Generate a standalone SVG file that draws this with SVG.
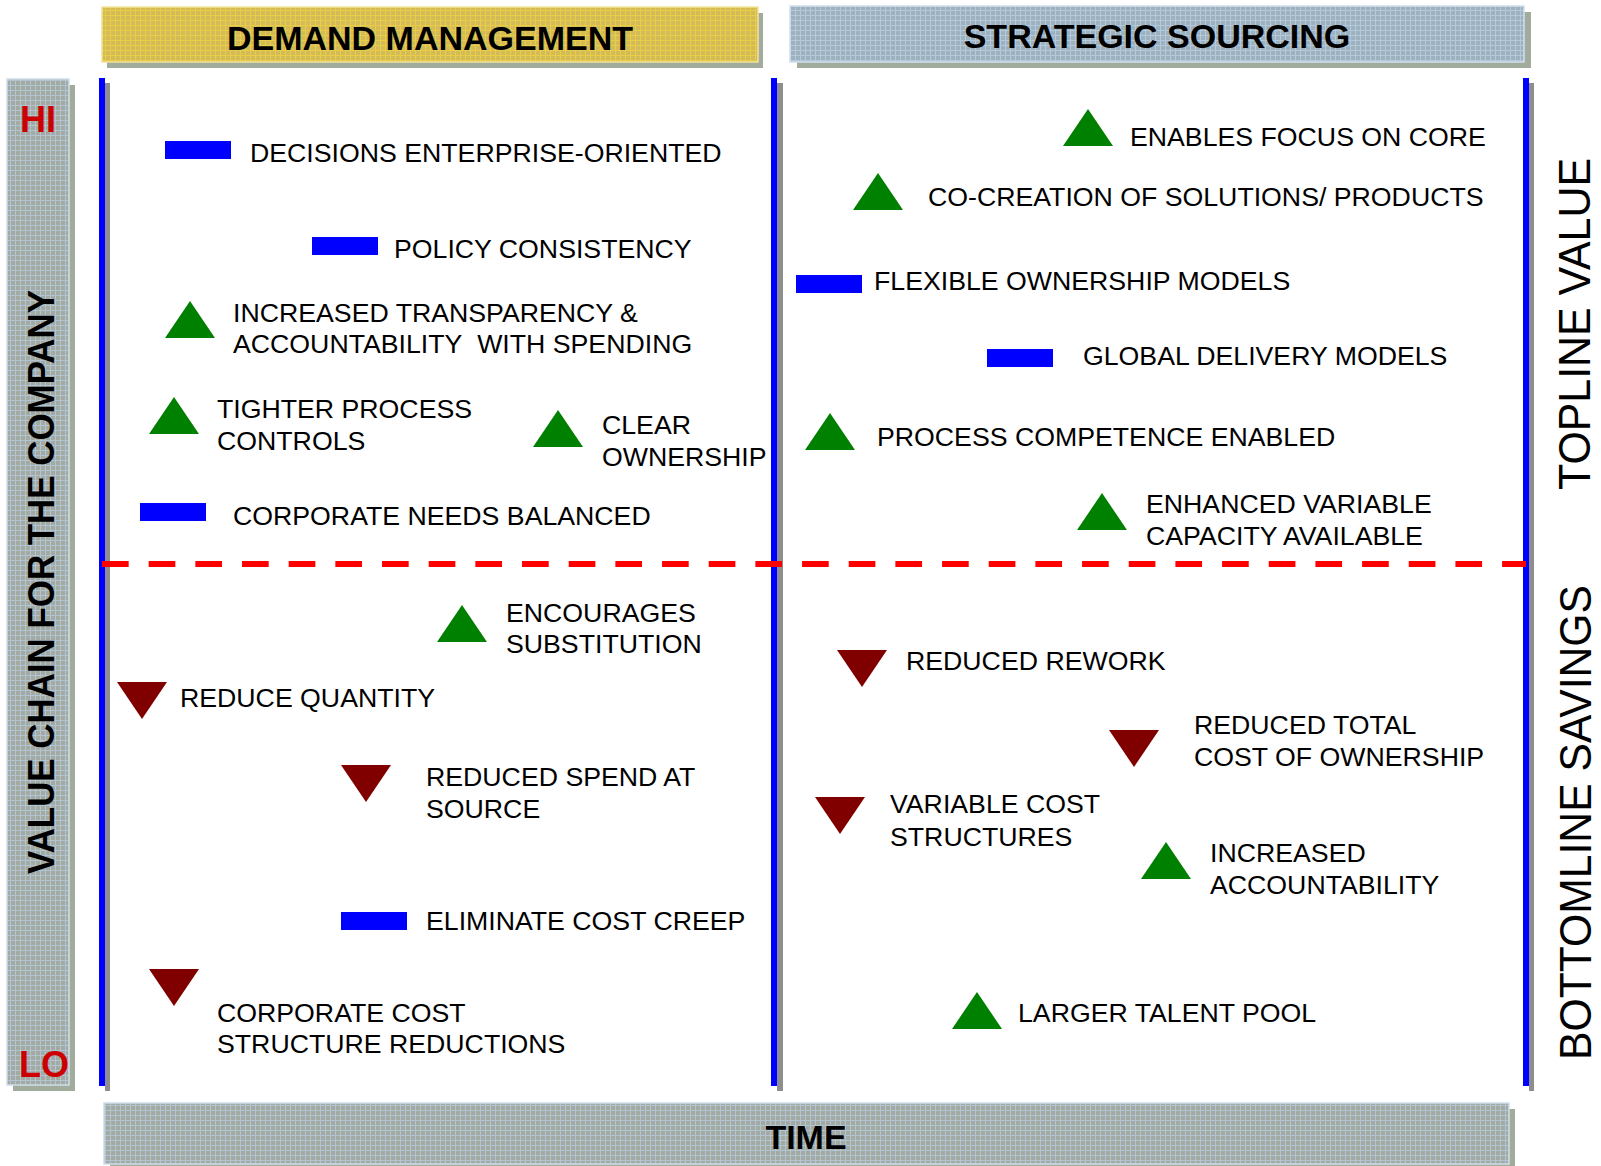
<svg xmlns="http://www.w3.org/2000/svg" width="1601" height="1166" viewBox="0 0 1601 1166">
<style>
  text { font-family: "Liberation Sans", Arial, sans-serif; fill: #000; }
  .item { font-size: 26.7px; }
  .hdr { font-size: 34px; font-weight: bold; text-anchor: middle; }
  .hilo { font-size: 36px; font-weight: bold; fill: #CC0000; }
  .side { font-size: 45px; }
  .up { fill: #008000; }
  .down { fill: #800000; }
  .bar { fill: #0000FF; }
  .shadow { fill: #A2AC9C; }
  .vshadow { fill: #8E8E8E; }
  .vline { fill: #0000FF; }
</style>
<defs>
  <pattern id="pGold" width="5" height="5" patternUnits="userSpaceOnUse">
    <rect width="5" height="5" fill="#D3BB57"/>
    <path d="M0 0.5H5M0.5 0V5" stroke="#E9CC48" stroke-width="1"/>
  </pattern>
  <pattern id="pBlue" width="5" height="5" patternUnits="userSpaceOnUse">
    <rect width="5" height="5" fill="#9DB1BF"/>
    <path d="M0 0.5H5M0.5 0V5" stroke="#B4CADC" stroke-width="1"/>
  </pattern>
  <pattern id="pGray" width="5" height="5" patternUnits="userSpaceOnUse">
    <rect width="5" height="5" fill="#A2AAA1"/>
    <path d="M0 0.5H5M0.5 0V5" stroke="#B2C4D4" stroke-width="1"/>
  </pattern>
  <path id="triUp" d="M25 0 L50 37 L0 37 Z"/>
  <path id="triDown" d="M0 0 L50 0 L25 37 Z"/>
  <rect id="blueBar" width="66" height="18"/>
</defs>

<rect width="1601" height="1166" fill="#FFFFFF"/>

<!-- Headers -->
<g id="header-demand">
  <rect class="shadow" x="107" y="13" width="656" height="55"/>
  <rect x="102" y="7" width="656" height="55" fill="url(#pGold)" stroke="#F3E39A" stroke-width="1.5"/>
  <text class="hdr" x="430" y="50">DEMAND MANAGEMENT</text>
</g>
<g id="header-sourcing">
  <rect class="shadow" x="797" y="12" width="734" height="56"/>
  <rect x="790" y="6" width="734" height="56" fill="url(#pBlue)" stroke="#D2E0EE" stroke-width="1.5"/>
  <text class="hdr" x="1157" y="48">STRATEGIC SOURCING</text>
</g>

<!-- Left value chain bar -->
<g id="axis-value-chain">
  <rect class="shadow" x="13" y="85" width="62" height="1006"/>
  <rect x="7" y="79" width="62" height="1006" fill="url(#pGray)" stroke="#CFDDEA" stroke-width="1.5"/>
  <text class="hilo" x="20" y="132">HI</text>
  <text class="hilo" x="19" y="1077">LO</text>
  <text transform="translate(54,874) rotate(-90)" font-size="36.5" font-weight="bold" textLength="584" lengthAdjust="spacingAndGlyphs">VALUE CHAIN FOR THE COMPANY</text>
</g>

<!-- Bottom time bar -->
<g id="axis-time">
  <rect class="shadow" x="110" y="1109" width="1405" height="57"/>
  <rect x="104" y="1103" width="1405" height="61" fill="url(#pGray)" stroke="#CFDDEA" stroke-width="1.5"/>
  <text class="hdr" x="806" y="1149">TIME</text>
</g>

<!-- Right side labels -->
<g id="label-topline">
  <text class="side" transform="translate(1590,490) rotate(-90)" textLength="332" lengthAdjust="spacingAndGlyphs">TOPLINE VALUE</text>
</g>
<g id="label-bottomline">
  <text class="side" transform="translate(1591,1060) rotate(-90)" textLength="475" lengthAdjust="spacingAndGlyphs">BOTTOMLINE SAVINGS</text>
</g>

<!-- Frame lines and divider -->
<g id="connectors">
  <rect class="vshadow" x="105" y="83" width="5" height="1008"/>
  <rect class="vline" x="99" y="78" width="6" height="1008"/>
  <rect class="vshadow" x="777" y="83" width="6" height="1008"/>
  <rect class="vline" x="771" y="78" width="6" height="1008"/>
  <rect class="vshadow" x="1529" y="83" width="5" height="1008"/>
  <rect class="vline" x="1523" y="78" width="6" height="1008"/>
  <line x1="102" y1="564" x2="1526" y2="564" stroke="#FF0000" stroke-width="6" stroke-dasharray="26.67 20"/>
</g>

<!-- Top-left quadrant -->
<g id="n-decisions">
  <use href="#blueBar" class="bar" x="165" y="141"/>
  <text class="item" x="250" y="162">DECISIONS ENTERPRISE-ORIENTED</text>
</g>
<g id="n-policy">
  <use href="#blueBar" class="bar" x="312" y="237"/>
  <text class="item" x="394" y="258">POLICY CONSISTENCY</text>
</g>
<g id="n-transparency">
  <use href="#triUp" class="up" x="165" y="301"/>
  <text class="item" x="233" y="322">INCREASED TRANSPARENCY &amp;</text>
  <text class="item" x="233" y="353">ACCOUNTABILITY&#160; WITH SPENDING</text>
</g>
<g id="n-tighter">
  <use href="#triUp" class="up" x="149" y="397"/>
  <text class="item" x="217" y="418">TIGHTER PROCESS</text>
  <text class="item" x="217" y="450">CONTROLS</text>
</g>
<g id="n-clear">
  <use href="#triUp" class="up" x="533" y="410"/>
  <text class="item" x="602" y="434">CLEAR</text>
  <text class="item" x="602" y="466">OWNERSHIP</text>
</g>
<g id="n-corporate-needs">
  <use href="#blueBar" class="bar" x="140" y="503"/>
  <text class="item" x="233" y="525">CORPORATE NEEDS BALANCED</text>
</g>

<!-- Top-right quadrant -->
<g id="n-focus">
  <use href="#triUp" class="up" x="1063" y="109"/>
  <text class="item" x="1130" y="146">ENABLES FOCUS ON CORE</text>
</g>
<g id="n-cocreation">
  <use href="#triUp" class="up" x="853" y="173"/>
  <text class="item" x="928" y="206">CO-CREATION OF SOLUTIONS/ PRODUCTS</text>
</g>
<g id="n-flexible">
  <use href="#blueBar" class="bar" x="796" y="275"/>
  <text class="item" x="874" y="290">FLEXIBLE OWNERSHIP MODELS</text>
</g>
<g id="n-global">
  <use href="#blueBar" class="bar" x="987" y="349"/>
  <text class="item" x="1083" y="365">GLOBAL DELIVERY MODELS</text>
</g>
<g id="n-process">
  <use href="#triUp" class="up" x="805" y="413"/>
  <text class="item" x="877" y="446">PROCESS COMPETENCE ENABLED</text>
</g>
<g id="n-capacity">
  <use href="#triUp" class="up" x="1077" y="493"/>
  <text class="item" x="1146" y="513">ENHANCED VARIABLE</text>
  <text class="item" x="1146" y="545">CAPACITY AVAILABLE</text>
</g>

<!-- Bottom-left quadrant -->
<g id="n-substitution">
  <use href="#triUp" class="up" x="437" y="605"/>
  <text class="item" x="506" y="622">ENCOURAGES</text>
  <text class="item" x="506" y="653">SUBSTITUTION</text>
</g>
<g id="n-quantity">
  <use href="#triDown" class="down" x="117" y="682"/>
  <text class="item" x="180" y="707">REDUCE QUANTITY</text>
</g>
<g id="n-spend">
  <use href="#triDown" class="down" x="341" y="765"/>
  <text class="item" x="426" y="786">REDUCED SPEND AT</text>
  <text class="item" x="426" y="818">SOURCE</text>
</g>
<g id="n-creep">
  <use href="#blueBar" class="bar" x="341" y="912"/>
  <text class="item" x="426" y="930">ELIMINATE COST CREEP</text>
</g>
<g id="n-cost-structure">
  <use href="#triDown" class="down" x="149" y="969"/>
  <text class="item" x="217" y="1022">CORPORATE COST</text>
  <text class="item" x="217" y="1053">STRUCTURE REDUCTIONS</text>
</g>

<!-- Bottom-right quadrant -->
<g id="n-rework">
  <use href="#triDown" class="down" x="837" y="650"/>
  <text class="item" x="906" y="670">REDUCED REWORK</text>
</g>
<g id="n-tco">
  <use href="#triDown" class="down" x="1109" y="730"/>
  <text class="item" x="1194" y="734">REDUCED TOTAL</text>
  <text class="item" x="1194" y="766">COST OF OWNERSHIP</text>
</g>
<g id="n-variable-cost">
  <use href="#triDown" class="down" x="815" y="797"/>
  <text class="item" x="890" y="813">VARIABLE COST</text>
  <text class="item" x="890" y="846">STRUCTURES</text>
</g>
<g id="n-accountability">
  <use href="#triUp" class="up" x="1141" y="842"/>
  <text class="item" x="1210" y="862">INCREASED</text>
  <text class="item" x="1210" y="894">ACCOUNTABILITY</text>
</g>
<g id="n-talent">
  <use href="#triUp" class="up" x="952" y="992"/>
  <text class="item" x="1018" y="1022">LARGER TALENT POOL</text>
</g>
</svg>
